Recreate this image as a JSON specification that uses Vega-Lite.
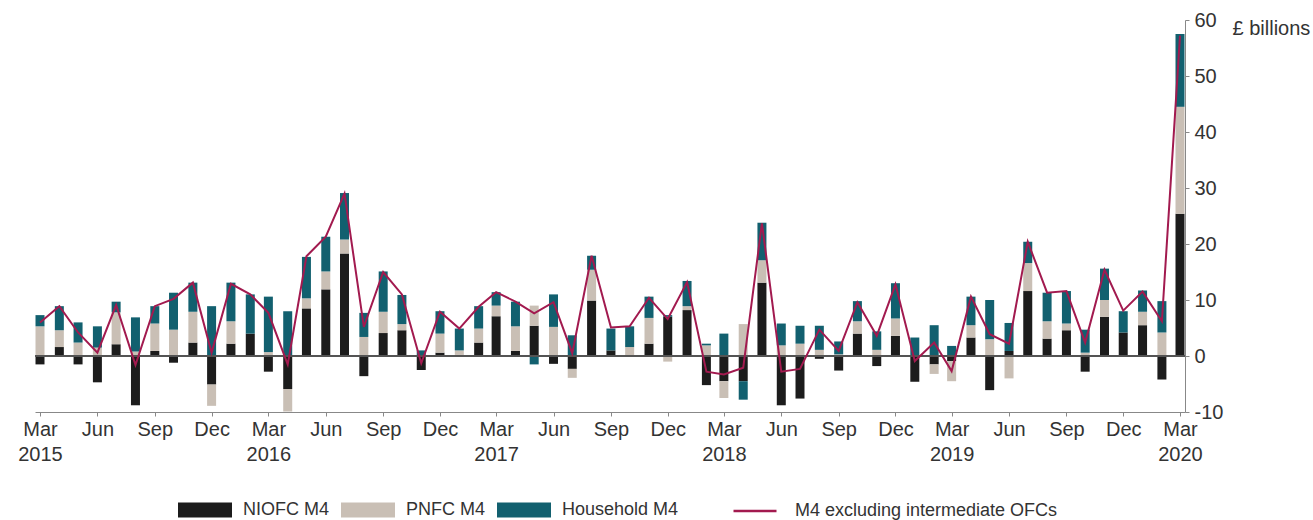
{
  "$schema": "https://vega.github.io/schema/vega-lite/v6.json",
  "width": 1150,
  "height": 392,
  "autosize": {"type": "none"},
  "padding": {"left": 35, "top": 20, "right": 128, "bottom": 108},
  "background": "white",
  "config": {
    "view": {"stroke": null},
    "font": "Liberation Sans",
    "axis": {
      "grid": false,
      "labelFontSize": 20,
      "labelColor": "#333333",
      "domainColor": "#888888",
      "tickColor": "#888888",
      "tickSize": 4,
      "labelFlush": false,
      "labelOverlap": false
    },
    "legend": {"labelFont": "Liberation Sans", "labelColor": "#333333", "labelLimit": 0}
  },
  "data": {
    "values": [
      {"month": "2015-03-01", "NIOFC M4": -1.5, "PNFC M4": 5.3, "Household M4": 2.0, "M4 excluding intermediate OFCs": 6.0},
      {"month": "2015-04-01", "NIOFC M4": 1.6, "PNFC M4": 3.0, "Household M4": 4.3, "M4 excluding intermediate OFCs": 8.9},
      {"month": "2015-05-01", "NIOFC M4": -1.5, "PNFC M4": 2.4, "Household M4": 3.6, "M4 excluding intermediate OFCs": 4.2},
      {"month": "2015-06-01", "NIOFC M4": -4.7, "PNFC M4": 1.5, "Household M4": 3.8, "M4 excluding intermediate OFCs": 0.6},
      {"month": "2015-07-01", "NIOFC M4": 2.1, "PNFC M4": 5.7, "Household M4": 1.9, "M4 excluding intermediate OFCs": 9.1},
      {"month": "2015-08-01", "NIOFC M4": -8.8, "PNFC M4": 0.8, "Household M4": 6.1, "M4 excluding intermediate OFCs": -1.6},
      {"month": "2015-09-01", "NIOFC M4": 0.9, "PNFC M4": 4.9, "Household M4": 3.1, "M4 excluding intermediate OFCs": 8.9},
      {"month": "2015-10-01", "NIOFC M4": -1.2, "PNFC M4": 4.7, "Household M4": 6.6, "M4 excluding intermediate OFCs": 10.2},
      {"month": "2015-11-01", "NIOFC M4": 2.4, "PNFC M4": 5.5, "Household M4": 5.2, "M4 excluding intermediate OFCs": 13.1},
      {"month": "2015-12-01", "NIOFC M4": -5.1, "PNFC M4": -3.8, "Household M4": 8.9, "M4 excluding intermediate OFCs": 0.6},
      {"month": "2016-01-01", "NIOFC M4": 2.2, "PNFC M4": 4.0, "Household M4": 6.9, "M4 excluding intermediate OFCs": 12.9},
      {"month": "2016-02-01", "NIOFC M4": 4.0, "PNFC M4": 0.0, "Household M4": 7.0, "M4 excluding intermediate OFCs": 11.0},
      {"month": "2016-03-01", "NIOFC M4": -2.8, "PNFC M4": 0.7, "Household M4": 9.9, "M4 excluding intermediate OFCs": 7.7},
      {"month": "2016-04-01", "NIOFC M4": -5.9, "PNFC M4": -4.0, "Household M4": 8.0, "M4 excluding intermediate OFCs": -1.5},
      {"month": "2016-05-01", "NIOFC M4": 8.5, "PNFC M4": 1.8, "Household M4": 7.4, "M4 excluding intermediate OFCs": 17.8},
      {"month": "2016-06-01", "NIOFC M4": 11.9, "PNFC M4": 3.2, "Household M4": 6.2, "M4 excluding intermediate OFCs": 21.3},
      {"month": "2016-07-01", "NIOFC M4": 18.3, "PNFC M4": 2.5, "Household M4": 8.3, "M4 excluding intermediate OFCs": 29.0},
      {"month": "2016-08-01", "NIOFC M4": -3.6, "PNFC M4": 3.4, "Household M4": 4.3, "M4 excluding intermediate OFCs": 5.2},
      {"month": "2016-09-01", "NIOFC M4": 4.1, "PNFC M4": 3.8, "Household M4": 7.2, "M4 excluding intermediate OFCs": 15.0},
      {"month": "2016-10-01", "NIOFC M4": 4.6, "PNFC M4": 1.1, "Household M4": 5.2, "M4 excluding intermediate OFCs": 11.0},
      {"month": "2016-11-01", "NIOFC M4": -2.5, "PNFC M4": 0.0, "Household M4": 1.0, "M4 excluding intermediate OFCs": -1.3},
      {"month": "2016-12-01", "NIOFC M4": 0.6, "PNFC M4": 3.4, "Household M4": 4.0, "M4 excluding intermediate OFCs": 7.9},
      {"month": "2017-01-01", "NIOFC M4": 0.2, "PNFC M4": 0.8, "Household M4": 3.9, "M4 excluding intermediate OFCs": 4.9},
      {"month": "2017-02-01", "NIOFC M4": 2.4, "PNFC M4": 2.5, "Household M4": 4.0, "M4 excluding intermediate OFCs": 8.8},
      {"month": "2017-03-01", "NIOFC M4": 7.1, "PNFC M4": 1.9, "Household M4": 2.4, "M4 excluding intermediate OFCs": 11.4},
      {"month": "2017-04-01", "NIOFC M4": 0.9, "PNFC M4": 4.4, "Household M4": 4.4, "M4 excluding intermediate OFCs": 9.7},
      {"month": "2017-05-01", "NIOFC M4": 5.4, "PNFC M4": 3.6, "Household M4": -1.5, "M4 excluding intermediate OFCs": 7.6},
      {"month": "2017-06-01", "NIOFC M4": -1.4, "PNFC M4": 5.2, "Household M4": 5.8, "M4 excluding intermediate OFCs": 9.6},
      {"month": "2017-07-01", "NIOFC M4": -2.3, "PNFC M4": -1.6, "Household M4": 3.7, "M4 excluding intermediate OFCs": 0.5},
      {"month": "2017-08-01", "NIOFC M4": 9.9, "PNFC M4": 5.5, "Household M4": 2.5, "M4 excluding intermediate OFCs": 17.9},
      {"month": "2017-09-01", "NIOFC M4": 1.0, "PNFC M4": 0.0, "Household M4": 3.9, "M4 excluding intermediate OFCs": 5.1},
      {"month": "2017-10-01", "NIOFC M4": 0.0, "PNFC M4": 1.6, "Household M4": 3.7, "M4 excluding intermediate OFCs": 5.3},
      {"month": "2017-11-01", "NIOFC M4": 2.2, "PNFC M4": 4.6, "Household M4": 3.8, "M4 excluding intermediate OFCs": 10.4},
      {"month": "2017-12-01", "NIOFC M4": 7.0, "PNFC M4": -1.0, "Household M4": 0.3, "M4 excluding intermediate OFCs": 6.6},
      {"month": "2018-01-01", "NIOFC M4": 8.2, "PNFC M4": 0.7, "Household M4": 4.5, "M4 excluding intermediate OFCs": 13.2},
      {"month": "2018-02-01", "NIOFC M4": -5.2, "PNFC M4": 1.9, "Household M4": 0.3, "M4 excluding intermediate OFCs": -2.8},
      {"month": "2018-03-01", "NIOFC M4": -4.5, "PNFC M4": -3.0, "Household M4": 4.0, "M4 excluding intermediate OFCs": -3.3},
      {"month": "2018-04-01", "NIOFC M4": -4.5, "PNFC M4": 5.7, "Household M4": -3.3, "M4 excluding intermediate OFCs": -2.1},
      {"month": "2018-05-01", "NIOFC M4": 13.1, "PNFC M4": 4.0, "Household M4": 6.7, "M4 excluding intermediate OFCs": 23.7},
      {"month": "2018-06-01", "NIOFC M4": -8.8, "PNFC M4": 1.9, "Household M4": 3.9, "M4 excluding intermediate OFCs": -2.8},
      {"month": "2018-07-01", "NIOFC M4": -7.6, "PNFC M4": 2.2, "Household M4": 3.2, "M4 excluding intermediate OFCs": -2.3},
      {"month": "2018-08-01", "NIOFC M4": -0.5, "PNFC M4": 1.1, "Household M4": 4.3, "M4 excluding intermediate OFCs": 4.7},
      {"month": "2018-09-01", "NIOFC M4": -2.6, "PNFC M4": 0.3, "Household M4": 2.3, "M4 excluding intermediate OFCs": 0.9},
      {"month": "2018-10-01", "NIOFC M4": 4.0, "PNFC M4": 2.2, "Household M4": 3.6, "M4 excluding intermediate OFCs": 9.6},
      {"month": "2018-11-01", "NIOFC M4": -1.8, "PNFC M4": 1.1, "Household M4": 3.3, "M4 excluding intermediate OFCs": 3.6},
      {"month": "2018-12-01", "NIOFC M4": 3.6, "PNFC M4": 3.1, "Household M4": 6.3, "M4 excluding intermediate OFCs": 12.8},
      {"month": "2019-01-01", "NIOFC M4": -4.6, "PNFC M4": 0.0, "Household M4": 3.3, "M4 excluding intermediate OFCs": -0.9},
      {"month": "2019-02-01", "NIOFC M4": -1.5, "PNFC M4": -1.7, "Household M4": 5.5, "M4 excluding intermediate OFCs": 2.4},
      {"month": "2019-03-01", "NIOFC M4": -0.9, "PNFC M4": -3.6, "Household M4": 1.8, "M4 excluding intermediate OFCs": -2.7},
      {"month": "2019-04-01", "NIOFC M4": 3.3, "PNFC M4": 2.2, "Household M4": 5.1, "M4 excluding intermediate OFCs": 10.6},
      {"month": "2019-05-01", "NIOFC M4": -6.1, "PNFC M4": 3.0, "Household M4": 7.0, "M4 excluding intermediate OFCs": 3.9},
      {"month": "2019-06-01", "NIOFC M4": 0.9, "PNFC M4": -4.0, "Household M4": 5.0, "M4 excluding intermediate OFCs": 2.2},
      {"month": "2019-07-01", "NIOFC M4": 11.6, "PNFC M4": 5.0, "Household M4": 3.8, "M4 excluding intermediate OFCs": 20.4},
      {"month": "2019-08-01", "NIOFC M4": 3.1, "PNFC M4": 3.1, "Household M4": 5.1, "M4 excluding intermediate OFCs": 11.3},
      {"month": "2019-09-01", "NIOFC M4": 4.6, "PNFC M4": 1.2, "Household M4": 5.8, "M4 excluding intermediate OFCs": 11.6},
      {"month": "2019-10-01", "NIOFC M4": -2.8, "PNFC M4": 0.6, "Household M4": 4.1, "M4 excluding intermediate OFCs": 2.4},
      {"month": "2019-11-01", "NIOFC M4": 7.0, "PNFC M4": 3.0, "Household M4": 5.6, "M4 excluding intermediate OFCs": 15.4},
      {"month": "2019-12-01", "NIOFC M4": 4.2, "PNFC M4": 0.0, "Household M4": 3.8, "M4 excluding intermediate OFCs": 8.1},
      {"month": "2020-01-01", "NIOFC M4": 5.5, "PNFC M4": 2.4, "Household M4": 3.8, "M4 excluding intermediate OFCs": 11.5},
      {"month": "2020-02-01", "NIOFC M4": -4.2, "PNFC M4": 4.2, "Household M4": 5.6, "M4 excluding intermediate OFCs": 6.2},
      {"month": "2020-03-01", "NIOFC M4": 25.4, "PNFC M4": 19.1, "Household M4": 13.0, "M4 excluding intermediate OFCs": 57.2}
    ]
  },
  "layer": [
    {
      "transform": [
        {"fold": ["NIOFC M4", "PNFC M4", "Household M4"], "as": ["sector", "value"]},
        {"window": [{"op": "row_number", "as": "stackrank"}], "groupby": ["month"]}
      ],
      "mark": {"type": "bar", "size": 9},
      "encoding": {
        "x": {
          "field": "month",
          "type": "temporal",
          "scale": {
            "type": "utc",
            "domain": [
              {"year": 2015, "month": 3, "date": 1, "utc": true},
              {"year": 2020, "month": 3, "date": 1, "utc": true}
            ]
          },
          "axis": {
            "title": null,
            "values": [
              {"year": 2015, "month": 3, "date": 1, "utc": true},
              {"year": 2015, "month": 6, "date": 1, "utc": true},
              {"year": 2015, "month": 9, "date": 1, "utc": true},
              {"year": 2015, "month": 12, "date": 1, "utc": true},
              {"year": 2016, "month": 3, "date": 1, "utc": true},
              {"year": 2016, "month": 6, "date": 1, "utc": true},
              {"year": 2016, "month": 9, "date": 1, "utc": true},
              {"year": 2016, "month": 12, "date": 1, "utc": true},
              {"year": 2017, "month": 3, "date": 1, "utc": true},
              {"year": 2017, "month": 6, "date": 1, "utc": true},
              {"year": 2017, "month": 9, "date": 1, "utc": true},
              {"year": 2017, "month": 12, "date": 1, "utc": true},
              {"year": 2018, "month": 3, "date": 1, "utc": true},
              {"year": 2018, "month": 6, "date": 1, "utc": true},
              {"year": 2018, "month": 9, "date": 1, "utc": true},
              {"year": 2018, "month": 12, "date": 1, "utc": true},
              {"year": 2019, "month": 3, "date": 1, "utc": true},
              {"year": 2019, "month": 6, "date": 1, "utc": true},
              {"year": 2019, "month": 9, "date": 1, "utc": true},
              {"year": 2019, "month": 12, "date": 1, "utc": true},
              {"year": 2020, "month": 3, "date": 1, "utc": true}
            ],
            "labelExpr": "utcFormat(datum.value, '%m') == '03' ? [utcFormat(datum.value, '%b'), utcFormat(datum.value, '%Y')] : utcFormat(datum.value, '%b')",
            "labelLineHeight": 25,
            "labelPadding": 3,
            "labelBaseline": "top"
          }
        },
        "y": {
          "field": "value",
          "type": "quantitative",
          "stack": "zero",
          "scale": {"domain": [-10, 60], "nice": false},
          "axis": {
            "orient": "right",
            "values": [-10, -5, 0, 5, 10, 15, 20, 25, 30, 35, 40, 45, 50, 55, 60],
            "labelExpr": "'' + datum.value",
            "labelPadding": 5,
            "title": "£ billions",
            "titleAngle": 0,
            "titleFontSize": 20,
            "titleFontWeight": "normal",
            "titleColor": "#333333",
            "titleAlign": "left",
            "titleBaseline": "middle",
            "titleX": 47,
            "titleY": 8
          }
        },
        "order": {"field": "stackrank", "type": "quantitative", "sort": "ascending"},
        "color": {
          "field": "sector",
          "type": "nominal",
          "sort": ["NIOFC M4", "PNFC M4", "Household M4"],
          "scale": {
            "domain": ["NIOFC M4", "PNFC M4", "Household M4"],
            "range": ["#1c1c1c", "#c9bfb5", "#12606f"]
          },
          "legend": {
            "title": null,
            "orient": "none",
            "legendX": 143,
            "legendY": 463,
            "direction": "horizontal",
            "symbolType": "M-1,-0.278H1V0.278H-1Z",
            "symbolSize": 2916,
            "symbolStrokeWidth": 0,
            "symbolOpacity": 1,
            "labelFontSize": 18,
            "labelOffset": 11,
            "columnPadding": 11
          }
        }
      }
    },
    {
      "mark": {"type": "rule", "color": "#555555", "strokeWidth": 1},
      "encoding": {"y": {"datum": 0}}
    },
    {
      "transform": [{"fold": ["M4 excluding intermediate OFCs"], "as": ["series", "value"]}],
      "mark": {"type": "line", "strokeWidth": 2},
      "encoding": {
        "x": {"field": "month", "type": "temporal"},
        "y": {"field": "value", "type": "quantitative"},
        "stroke": {
          "field": "series",
          "type": "nominal",
          "scale": {"domain": ["M4 excluding intermediate OFCs"], "range": ["#a21a4f"]},
          "legend": {
            "title": null,
            "orient": "none",
            "legendX": 697,
            "legendY": 468,
            "symbolType": "stroke",
            "symbolSize": 1849,
            "symbolStrokeWidth": 2.5,
            "labelFontSize": 18,
            "labelOffset": 17,
            "labelLimit": 0
          }
        }
      }
    }
  ]
}
